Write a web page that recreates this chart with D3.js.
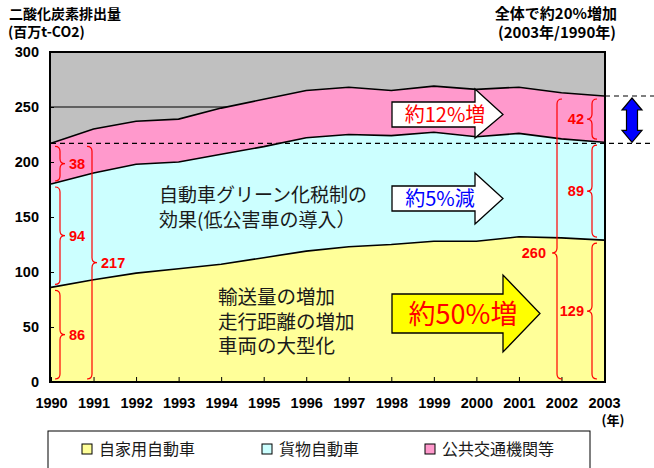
<!DOCTYPE html>
<html><head><meta charset="utf-8">
<script src="https://cdn.jsdelivr.net/npm/d3@7"></script>
<style>
html,body{margin:0;padding:0;background:#fff;}
svg{display:block;}
text{font-family:"Noto Sans CJK JP","Liberation Sans",sans-serif;}
.num{font-family:"Liberation Sans",Arial,sans-serif;font-weight:bold;}
</style></head>
<body>
<script>
// ---- data ----
const years = [1990,1991,1992,1993,1994,1995,1996,1997,1998,1999,2000,2001,2002,2003];
const privateCars = [86, 93, 99, 103, 107, 113, 119, 123, 125, 128, 128, 132, 131, 129];
const freight     = [94, 97, 99, 97, 100, 101, 103, 102, 99, 99, 95, 94, 90, 89];
const publicTrans = [37, 40, 39, 39, 42, 43, 43, 43, 41, 42, 43, 42, 42, 42];
const seriesNames = ["自家用自動車","貨物自動車","公共交通機関等"];
const seriesColors = ["#ffff99","#ccffff","#ff99cc"];
const yTicks = [0,50,100,150,200,250,300];
const leftBraces  = [[0,86,"86"],[86,180,"94"],[180,217,"38"]];
const leftTotal   = [0,217,"217"];
const rightBraces = [[0,129,"129"],[129,218,"89"],[218,260,"42"]];
const rightTotal  = [0,260,"260"];

const W=654,H=468;
const svg=d3.select("body").append("svg").attr("width",W).attr("height",H);
const x=d3.scalePoint().domain(years).range([51,604]);
const y=d3.scaleLinear().domain([0,300]).range([382,52]);
const px0=50, px1=605;

// plot background
svg.append("rect").attr("x",px0).attr("y",y(300)).attr("width",px1-px0).attr("height",y(0)-y(300)).attr("fill","#c0c0c0");
// gridline 250
svg.append("line").attr("x1",px0).attr("x2",px1).attr("y1",y(250)).attr("y2",y(250)).attr("stroke","#000").attr("stroke-width",1);

const rows=years.map((yr,i)=>({year:yr,a:privateCars[i],b:freight[i],c:publicTrans[i]}));
const stack=d3.stack().keys(["a","b","c"])(rows);
const area=d3.area().x(d=>x(d.data.year)).y0(d=>y(d[0])).y1(d=>y(d[1]));
const line=d3.line().x(d=>x(d.data.year)).y(d=>y(d[1]));
svg.selectAll("path.area").data(stack).join("path").attr("class","area")
  .attr("d",area).attr("fill",(d,i)=>seriesColors[i]);
svg.selectAll("path.bound").data(stack).join("path").attr("class","bound")
  .attr("d",line).attr("fill","none").attr("stroke","#000").attr("stroke-width",1.6);

// axes
const ya=svg.append("g").attr("transform",`translate(${px0},0)`)
  .call(d3.axisLeft(y).tickValues(yTicks).tickSize(-4).tickPadding(11));
ya.select(".domain").remove();
ya.selectAll("text").attr("class","num").attr("font-size",14.5).attr("fill","#000");
const xa=svg.append("g").attr("transform",`translate(0,${y(0)})`)
  .call(d3.axisBottom(x).tickSize(-5).tickPadding(16));
xa.select(".domain").remove();
xa.selectAll("text").attr("class","num").attr("font-size",14.5).attr("fill","#000");
svg.append("text").attr("x",613).attr("y",425).attr("text-anchor","middle").attr("font-size",13).attr("font-weight","bold").text("(年)");

// border
svg.append("rect").attr("x",px0).attr("y",y(300)).attr("width",px1-px0).attr("height",y(0)-y(300)).attr("fill","none").attr("stroke","#000").attr("stroke-width",2);

// dashed reference lines
svg.append("line").attr("x1",x(1990)).attr("x2",W).attr("y1",y(217)).attr("y2",y(217)).attr("stroke","#000").attr("stroke-dasharray","5,4").attr("stroke-width",1.2);
svg.append("line").attr("x1",px1).attr("x2",W).attr("y1",y(260)).attr("y2",y(260)).attr("stroke","#000").attr("stroke-dasharray","5,4").attr("stroke-width",1.2);

// blue double arrow
(function(){
  const cx=632, t=y(260)+2, b=y(217)-1, hw=10, sw=5.5, hh=12;
  const p=`M${cx},${t} L${cx+hw},${t+hh} L${cx+sw},${t+hh} L${cx+sw},${b-hh} L${cx+hw},${b-hh} L${cx},${b} L${cx-hw},${b-hh} L${cx-sw},${b-hh} L${cx-sw},${t+hh} L${cx-hw},${t+hh} Z`;
  svg.append("path").attr("d",p).attr("fill","#0000ff").attr("stroke","#000").attr("stroke-width",1.2);
})();

// braces
function brace(xs,yTop,yBot,ym,dir,a){
  const r=5;
  return `M${xs-dir*a},${yTop} Q${xs},${yTop} ${xs},${yTop+r} L${xs},${ym-r} Q${xs},${ym} ${xs+dir*a},${ym} Q${xs},${ym} ${xs},${ym+r} L${xs},${yBot-r} Q${xs},${yBot} ${xs-dir*a},${yBot}`;
}
function drawBrace(rng,xs,dir,labelX,anchor,tipShift){
  const yT=y(rng[1])+3, yB=y(rng[0])-3, ym=(yT+yB)/2+(tipShift||0);
  svg.append("path").attr("d",brace(xs,yT,yB,ym,dir,5)).attr("fill","none").attr("stroke","#ff0000").attr("stroke-width",1.2);
  svg.append("text").attr("class","num").attr("x",labelX).attr("y",ym).attr("dy","0.36em")
    .attr("text-anchor",anchor).attr("font-size",14.5).attr("fill","#ff0000").text(rng[2]);
}
leftBraces.forEach(r=>drawBrace(r,60,1,69,"start"));
drawBrace(leftTotal,92,1,101,"start");
rightBraces.forEach(r=>drawBrace(r,592,-1,584,"end"));
drawBrace(rightTotal,557,-1,546,"end",14);

// block arrows
function blockArrow(x0,x1,xt,by0,by1,hy0,hy1,fill){
  const cy=(by0+by1)/2;
  svg.append("path").attr("d",`M${x0},${by0} L${x1},${by0} L${x1},${hy0} L${xt},${cy} L${x1},${hy1} L${x1},${by1} L${x0},${by1} Z`)
    .attr("fill",fill).attr("stroke","#000").attr("stroke-width",1.3);
}
blockArrow(392,475,503,102,127,89,138,"#ffffff");
svg.append("text").attr("x",445).attr("y",114.5).attr("dy","0.36em").attr("text-anchor","middle").attr("font-size",20).attr("fill","#ff0000").text("約12%増");
blockArrow(392,475,503,186,211,173,224,"#ffffff");
svg.append("text").attr("x",440).attr("y",198.5).attr("dy","0.36em").attr("text-anchor","middle").attr("font-size",20).attr("fill","#0000ff").text("約5%減");
blockArrow(392,503,540,294,333,275,352,"#ffff00");
svg.append("text").attr("x",463).attr("y",314).attr("dy","0.36em").attr("text-anchor","middle").attr("font-size",27).attr("fill","#ff0000").text("約50%増");

// annotations
[["自動車グリーン化税制の",195],["効果(低公害車の導入）",220]].forEach(([t,yy])=>
  svg.append("text").attr("x",159).attr("y",yy).attr("dy","0.36em").attr("font-size",19).attr("fill","#1a1a1a").text(t));
[["輸送量の増加",297],["走行距離の増加",322],["車両の大型化",346]].forEach(([t,yy])=>
  svg.append("text").attr("x",218).attr("y",yy).attr("dy","0.36em").attr("font-size",19.5).attr("fill","#1a1a1a").text(t));

// titles
svg.append("text").attr("x",9).attr("y",19).attr("font-size",14).attr("font-weight","bold").text("二酸化炭素排出量");
svg.append("text").attr("x",8).attr("y",37).attr("font-size",14).attr("font-weight","bold").text("(百万t-CO2)");
svg.append("text").attr("x",617).attr("y",19).attr("text-anchor","end").attr("font-size",15).attr("font-weight","bold").text("全体で約20%増加");
svg.append("text").attr("x",616).attr("y",38).attr("text-anchor","end").attr("font-size",15).attr("font-weight","bold").text("(2003年/1990年)");

// legend
svg.append("rect").attr("x",48).attr("y",431).attr("width",542).attr("height",50).attr("fill","#fff").attr("stroke","#000").attr("stroke-width",1);
const legX=[82,262,425];
seriesNames.forEach((n,i)=>{
  svg.append("rect").attr("x",legX[i]).attr("y",444).attr("width",10).attr("height",10).attr("fill",seriesColors[i]).attr("stroke","#000").attr("stroke-width",1);
  svg.append("text").attr("x",legX[i]+17).attr("y",449).attr("dy","0.36em").attr("font-size",16).attr("fill","#1a1a1a").text(n);
});
</script>
</body></html>
